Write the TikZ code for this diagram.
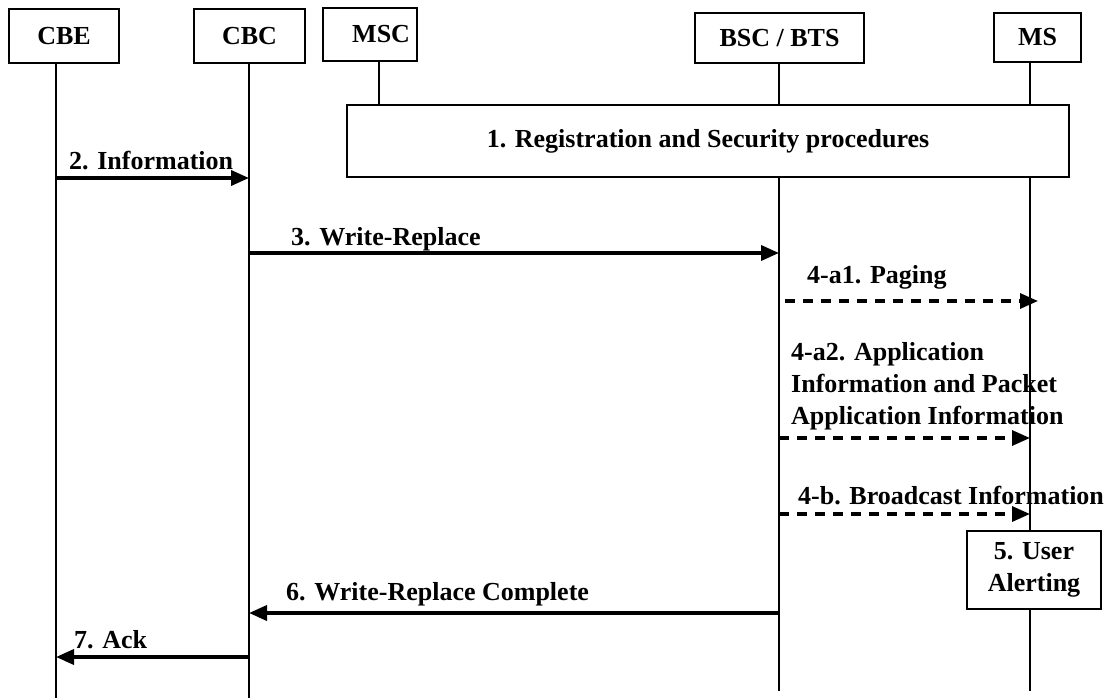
\documentclass[tikz,border=0pt]{standalone}
\usepackage{xcolor}
\usepackage{fontspec}
\setmainfont{Liberation Serif}
\usepackage{tikz}
\usetikzlibrary{calc}
\usetikzlibrary{arrows.meta}
\tikzset{>={Triangle[length=18pt, width=15pt]}}
\tikzstyle{entity} = [rectangle, draw=black, line width=2pt, inner sep=0pt]
\tikzstyle{life} = [-, line width=1.6pt]
\tikzstyle{msg} = [->, line width=3.6pt]
\tikzstyle{dmsg} = [->, line width=3.2pt, dash pattern=on 10pt off 8pt]
\tikzstyle{lbl} = [anchor=base west, inner sep=0pt, align=left]

\begin{document}
\begin{tikzpicture}[x=1pt, y=-1pt, font=\fontsize{26}{32}\selectfont\bfseries]
\useasboundingbox (0,0) rectangle (1111,698);
\node [entity, minimum width=110pt, minimum height=54pt] (CBE) at (64, 36) {CBE};
\node [entity, minimum width=111pt, minimum height=54pt] (CBC) at (249.5, 36) {CBC};
\node [entity, minimum height=53pt, text width=80pt, inner xsep=7pt, align=right] (MSC) at (370, 34.5) {MSC};
\node [entity, minimum width=169pt, minimum height=50pt] (BSC) at (779.5, 38) {BSC / BTS};
\node [entity, minimum width=87pt, minimum height=49pt] (MS) at (1037.5, 37.5) {MS};
\node [entity, minimum width=722pt, minimum height=72pt] (REG) at (708, 141) {1. Registration and Security procedures};
\node [entity, minimum width=134pt, minimum height=78pt, align=center] (ALERT) at (1034, 570) {5. User\\Alerting};

\coordinate (lCBE) at (56, 0);
\coordinate (lCBC) at (249, 0);
\coordinate (lMSC) at (379, 0);
\coordinate (lBSC) at (779, 0);
\coordinate (lMS) at (1030, 0);
\coordinate (bottom) at (0, 698);
\coordinate (stop) at (0, 691);

\draw [life] (lCBE |- CBE.south) to (lCBE |- bottom);
\draw [life] (lCBC |- CBC.south) to (lCBC |- bottom);
\draw [life] (lMSC |- MSC.south) to (lMSC |- REG.north);
\draw [life] (lBSC |- BSC.south) to (lBSC |- REG.north);
\draw [life] (lBSC |- REG.south) to (lBSC |- stop);
\draw [life] (lMS |- MS.south) to (lMS |- REG.north);
\draw [life] (lMS |- REG.south) to (lMS |- ALERT.north);
\draw [life] (lMS |- ALERT.south) to (lMS |- stop);

\coordinate (m2) at (0, 178);
\coordinate (m3) at (0, 253);
\coordinate (m4a1) at (0, 301);
\coordinate (m4a2) at (0, 438);
\coordinate (m4b) at (0, 514);
\coordinate (m6) at (0, 613);
\coordinate (m7) at (0, 657);

\draw [msg] (lCBE |- m2) to (lCBC |- m2);
\draw [msg] (lCBC |- m3) to (lBSC |- m3);
\draw [dmsg] ($(lBSC |- m4a1) + (6, 0)$) to ($(lMS |- m4a1) + (8, 0)$);
\draw [dmsg] (lBSC |- m4a2) to (lMS |- m4a2);
\draw [dmsg] (lBSC |- m4b) to (lMS |- m4b);
\draw [msg] (lBSC |- m6) to (lCBC |- m6);
\draw [msg] (lCBC |- m7) to (lCBE |- m7);

\node [lbl] (L2) at (69, 169) {2. Information};
\node [lbl] (L3) at (291, 245) {3. Write-Replace};
\node [lbl] (L4a1) at (807, 283) {4-a1. Paging};
\node [lbl] (L4a2) at (791, 424) {4-a2. Application\\Information and Packet\\Application Information};
\node [lbl] (L4b) at (798, 504) {4-b. Broadcast Information};
\node [lbl] (L6) at (286, 600) {6. Write-Replace Complete};
\node [lbl] (L7) at (74, 648) {7. Ack};
\end{tikzpicture}
\end{document}
